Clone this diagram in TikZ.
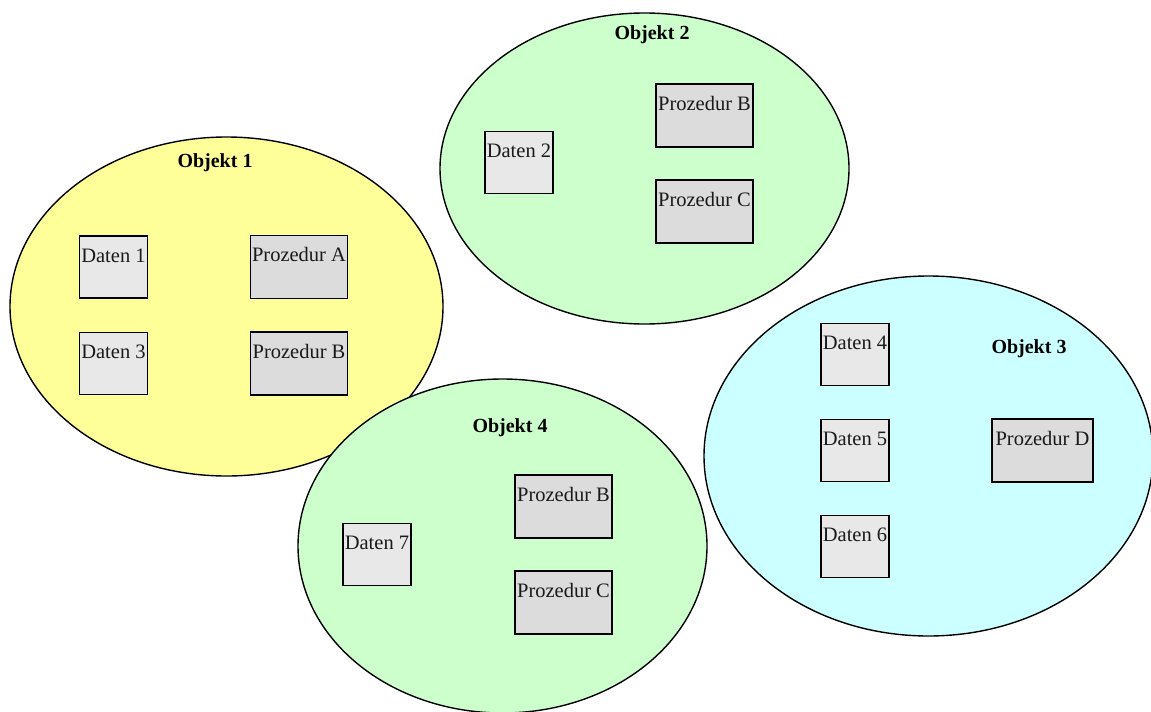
\documentclass[tikz,border=0pt]{standalone}
\usepackage{fontspec}
\setmainfont{Liberation Serif}
\usetikzlibrary{shapes.geometric}
\definecolor{obyellow}{HTML}{FFFF99}
\definecolor{obgreen}{HTML}{CCFFCC}
\definecolor{obcyan}{HTML}{CCFFFF}
\definecolor{datfill}{HTML}{E8E8E8}
\definecolor{procfill}{HTML}{DCDCDC}
\definecolor{txtcol}{HTML}{1A1A1A}
\tikzset{
  objell/.style={ellipse, draw=black, line width=1.4pt, inner sep=0pt},
  objlabel/.style={font=\fontsize{20}{22}\selectfont\bfseries, inner sep=0pt, anchor=base},
  datbox/.style={draw=black, line width=1.6pt, fill=datfill, minimum width=68pt, minimum height=62pt, inner sep=0pt},
  procbox/.style={draw=black, line width=1.6pt, fill=procfill, minimum width=97pt, minimum height=63pt, inner sep=0pt},
  boxtext/.style={font=\fontsize{20.5}{22}\selectfont, text=txtcol, inner sep=0pt, anchor=base}
}
\newcommand{\boxlbl}[2]{\node[boxtext] at ([yshift=-27pt]#1.north) {#2};}
\begin{document}
\begin{tikzpicture}[x=1pt,y=-1pt]
\useasboundingbox (0,0) rectangle (1151,712);
\begin{scope}
\clip (0,0) rectangle (1151,712);
% Objekt 1
\node[objell, fill=obyellow, minimum width=433pt, minimum height=339pt] (o1) at (226.5,306.5) {};
\node[objlabel] (o1l) at (215,167) {Objekt 1};
\node[datbox] (d1) at (113.5,267) {};
\boxlbl{d1}{Daten 1}
\node[procbox] (pa) at (299,267) {};
\boxlbl{pa}{Prozedur A}
\node[datbox] (d3) at (113.5,363.5) {};
\boxlbl{d3}{Daten 3}
\node[procbox] (pb1) at (299,363.5) {};
\boxlbl{pb1}{Prozedur B}
% Objekt 2
\node[objell, fill=obgreen, minimum width=409pt, minimum height=311pt] (o2) at (644.5,168.5) {};
\node[objlabel] (o2l) at (652,39) {Objekt 2};
\node[datbox] (d2) at (519,162.5) {};
\boxlbl{d2}{Daten 2}
\node[procbox] (pb2) at (704.5,115.5) {};
\boxlbl{pb2}{Prozedur B}
\node[procbox] (pc2) at (704.5,211.5) {};
\boxlbl{pc2}{Prozedur C}
% Objekt 3
\node[objell, fill=obcyan, minimum width=449pt, minimum height=360pt] (o3) at (928.5,456) {};
\node[objlabel] (o3l) at (1029,353) {Objekt 3};
\node[datbox] (d4) at (855,354.5) {};
\boxlbl{d4}{Daten 4}
\node[datbox] (d5) at (855,450.5) {};
\boxlbl{d5}{Daten 5}
\node[datbox] (d6) at (855,546.5) {};
\boxlbl{d6}{Daten 6}
\node[procbox, minimum width=101pt] (pd) at (1042.5,450.5) {};
\boxlbl{pd}{Prozedur D}
% Objekt 4
\node[objell, fill=obgreen, minimum width=409pt, minimum height=334pt] (o4) at (502.5,546) {};
\node[objlabel] (o4l) at (510,432) {Objekt 4};
\node[datbox] (d7) at (377,554.5) {};
\boxlbl{d7}{Daten 7}
\node[procbox] (pb4) at (563.5,506.5) {};
\boxlbl{pb4}{Prozedur B}
\node[procbox] (pc4) at (563.5,602.5) {};
\boxlbl{pc4}{Prozedur C}
\end{scope}
\end{tikzpicture}
\end{document}
